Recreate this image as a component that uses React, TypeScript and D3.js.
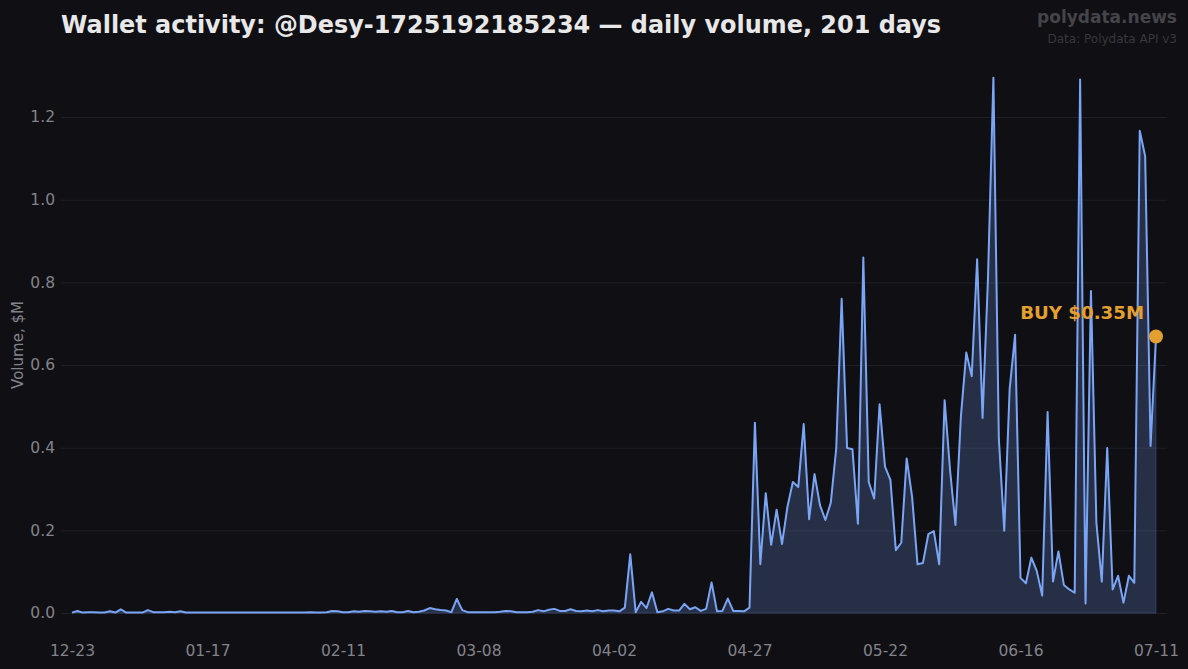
import React, {useEffect, useRef} from 'react';
import * as d3 from 'd3';

const volume: number[] = [
    0.001, 0.005, 0.001, 0.002, 0.002, 0.001, 0.001, 0.004, 0.001, 0.009,
    0.001, 0.001, 0.001, 0.001, 0.007, 0.002, 0.002, 0.002, 0.003, 0.002,
    0.004, 0.001, 0.001, 0.001, 0.001, 0.001, 0.001, 0.001, 0.001, 0.001,
    0.001, 0.001, 0.001, 0.001, 0.001, 0.001, 0.001, 0.001, 0.001, 0.001,
    0.001, 0.001, 0.001, 0.001, 0.002, 0.001, 0.001, 0.002, 0.005, 0.004,
    0.002, 0.002, 0.004, 0.003, 0.005, 0.004, 0.003, 0.004, 0.003, 0.005,
    0.002, 0.002, 0.005, 0.002, 0.003, 0.006, 0.012, 0.009, 0.007, 0.006,
    0.002, 0.034, 0.007, 0.002, 0.002, 0.002, 0.002, 0.002, 0.002, 0.003,
    0.005, 0.004, 0.002, 0.002, 0.002, 0.003, 0.007, 0.004, 0.008, 0.010,
    0.005, 0.005, 0.009, 0.005, 0.004, 0.006, 0.004, 0.007, 0.004, 0.006,
    0.006, 0.004, 0.013, 0.142, 0.002, 0.027, 0.012, 0.05, 0.002, 0.004,
    0.01, 0.006, 0.006, 0.022, 0.009, 0.014, 0.005, 0.01, 0.074, 0.004,
    0.005, 0.035, 0.005, 0.005, 0.004, 0.013, 0.46, 0.118, 0.29, 0.165,
    0.25, 0.167, 0.257, 0.317, 0.305, 0.457, 0.227, 0.336, 0.261, 0.225,
    0.267, 0.398, 0.76, 0.399, 0.396, 0.216, 0.86, 0.317, 0.277, 0.505,
    0.354, 0.322, 0.152, 0.17, 0.374, 0.281, 0.118, 0.121, 0.191, 0.198,
    0.118, 0.515, 0.346, 0.213, 0.475, 0.63, 0.573, 0.856, 0.472, 0.81,
    1.295, 0.423, 0.199, 0.542, 0.673, 0.085, 0.072, 0.134, 0.102, 0.042,
    0.486, 0.076, 0.149, 0.068, 0.057, 0.049, 1.291, 0.023, 0.779, 0.219,
    0.076, 0.399, 0.057, 0.09, 0.025, 0.09, 0.073, 1.167, 1.105, 0.404,
    0.669,
];

const xTickIndex = [0, 25, 50, 75, 100, 125, 150, 175, 200];
const xTickLabels = ['12-23', '01-17', '02-11', '03-08', '04-02', '04-27', '05-22', '06-16', '07-11'];
const yTicks = [0, 0.2, 0.4, 0.6, 0.8, 1.0, 1.2];

const width = 1188;
const height = 669;
const font = '"DejaVu Sans", sans-serif';

const x = d3.scaleLinear().domain([0, 200]).range([72, 1156]);
const y = d3.scaleLinear().domain([0, 1.2]).range([613, 117]);

const App: React.FC = () => {
    const ref = useRef<SVGSVGElement>(null);
    useEffect(() => {
        const svg = d3.select(ref.current);
        svg.selectAll('*').remove();

        // grid and tick labels
        const yAxis = svg.append('g')
            .attr('transform', 'translate(61,0)')
            .call(d3.axisLeft(y).tickValues(yTicks).tickSize(0).tickPadding(6).tickFormat(d3.format('.1f')) as any);
        yAxis.select('.domain').remove();
        yAxis.selectAll('text').attr('fill', '#83838a').attr('font-size', 15.5).attr('font-family', font);
        yAxis.selectAll('.tick').append('line')
            .attr('x1', 0).attr('x2', 1106)
            .attr('stroke', '#1f1f26').attr('stroke-width', 1);

        const xAxis = svg.append('g')
            .attr('transform', 'translate(0,613)')
            .call(d3.axisBottom(x).tickValues(xTickIndex).tickSize(0).tickPadding(32)
                .tickFormat((_, i) => xTickLabels[i]) as any);
        xAxis.select('.domain').remove();
        xAxis.selectAll('text').attr('fill', '#83838a').attr('font-size', 15.5).attr('font-family', font);

        const area = d3.area<number>().x((_, i) => x(i)).y0(y(0)).y1((d) => y(d));
        const line = d3.line<number>().x((_, i) => x(i)).y((d) => y(d));

        svg.append('path').datum(volume)
            .attr('d', area)
            .attr('fill', '#7aa5f5').attr('fill-opacity', 0.22)
            .attr('stroke', '#7aa5f5').attr('stroke-opacity', 0.22).attr('stroke-width', 1);
        svg.append('path').datum(volume)
            .attr('d', line)
            .attr('fill', 'none')
            .attr('stroke', '#7aa5f5').attr('stroke-width', 2).attr('stroke-linejoin', 'round');

        // last point marker
        const last = volume.length - 1;
        svg.append('circle')
            .attr('cx', x(last)).attr('cy', y(volume[last])).attr('r', 7)
            .attr('fill', '#e3a031');
        svg.append('text')
            .attr('x', x(last) - 12).attr('y', y(volume[last]) - 17)
            .attr('text-anchor', 'end')
            .attr('fill', '#e3a031').attr('font-size', 18.2).attr('font-weight', 700).attr('font-family', font)
            .text('BUY $0.35M');
    }, []);

    return (
        <svg ref={ref} width={width} height={height}
             style={{position: 'absolute', left: 0, top: 0, background: '#0f0f14'}} />
    );
};

const Overlay: React.FC = () => (
    <svg width={width} height={height} style={{position: 'absolute', left: 0, top: 0, pointerEvents: 'none'}}>
        <text x={61} y={33} fill="#e8e8e8" fontSize={23.95} fontWeight={700} fontFamily={font}>
            Wallet activity: @Desy-1725192185234 — daily volume, 201 days
        </text>
        <text x={1177} y={23} textAnchor="end" fill="#444449" fontSize={17} fontWeight={700} fontFamily={font}>
            polydata.news
        </text>
        <text x={1177} y={43} textAnchor="end" fill="#38383d" fontSize={12} fontFamily={font}>
            Data: Polydata API v3
        </text>
        <text transform="translate(23,345) rotate(-90)" textAnchor="middle" fill="#83838a" fontSize={15} fontFamily={font}>
            Volume, $M
        </text>
    </svg>
);

export default function Root() {
    return (
        <>
            <App />
            <Overlay />
        </>
    );
}
